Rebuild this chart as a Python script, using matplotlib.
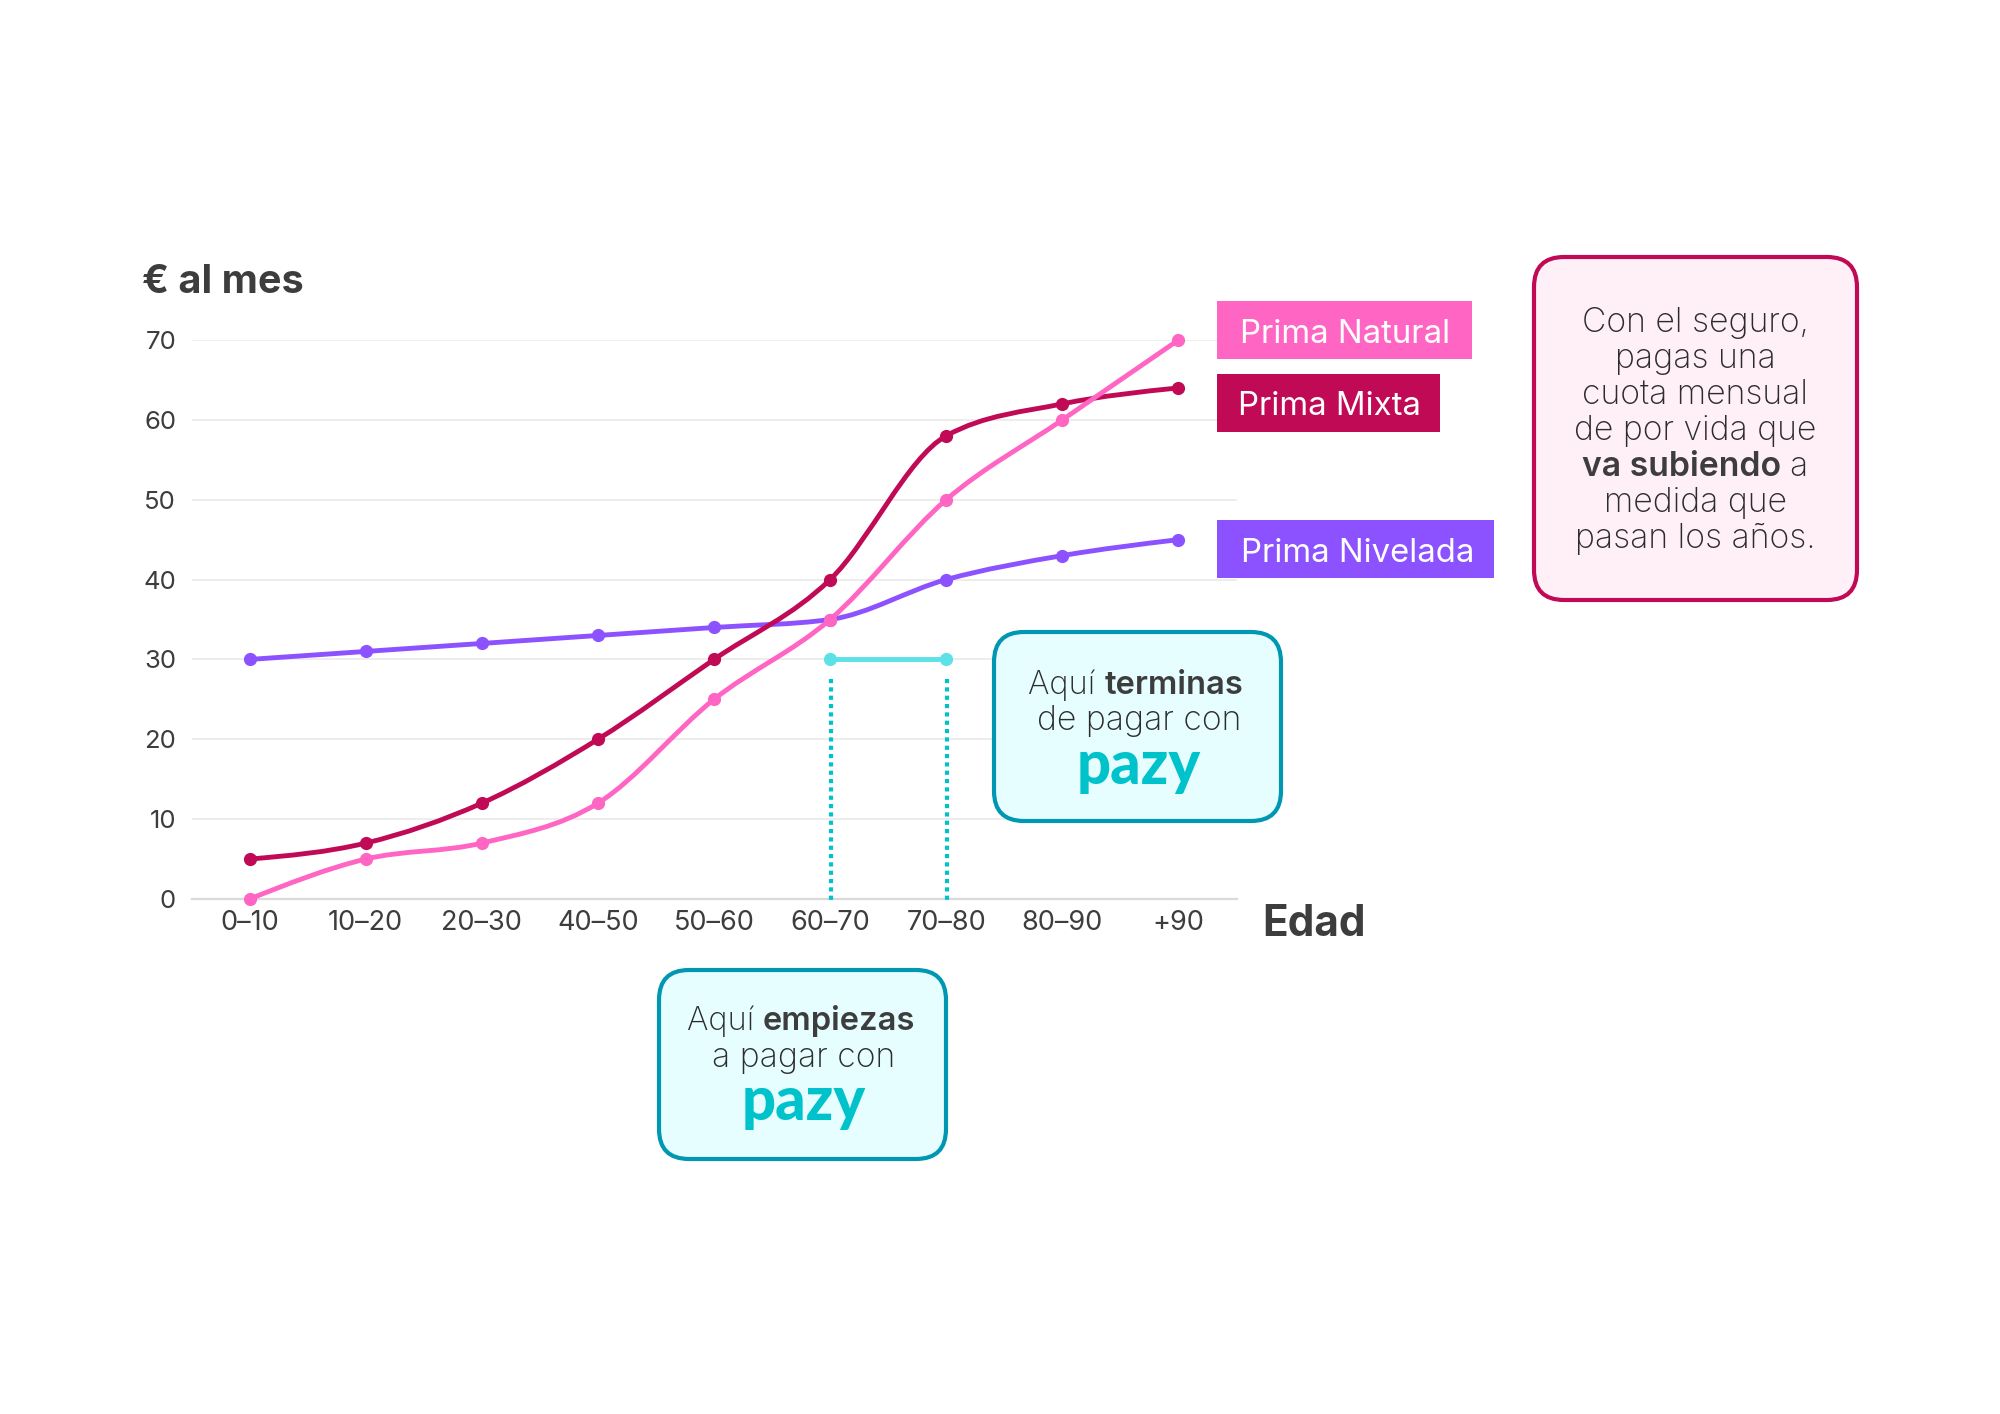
import numpy as np
import matplotlib
matplotlib.use("Agg")
import matplotlib.pyplot as plt
from matplotlib.patches import FancyBboxPatch, Rectangle
from matplotlib.path import Path
from matplotlib.patches import PathPatch

FONT = "Inter"
TEXT = "#3d3d3d"
LIGHT_TEXT = "#2c2c2c"

categories = ["0–10", "10–20", "20–30", "40–50", "50–60", "60–70", "70–80", "80–90", "+90"]
prima_natural = [0, 5, 7, 12, 25, 35, 50, 60, 70]
prima_mixta = [5, 7, 12, 20, 30, 40, 58, 62, 64]
prima_nivelada = [30, 31, 32, 33, 34, 35, 40, 43, 45]
pazy_idx = [5, 6]
pazy_vals = [30, 30]
y_ticks = [0, 10, 20, 30, 40, 50, 60, 70]


def monotone_path(x, y):
    """Monotone cubic (Fritsch-Carlson / d3 curveMonotoneX) through the points."""
    x = np.asarray(x, float)
    y = np.asarray(y, float)
    h = np.diff(x)
    s = np.diff(y) / h
    t = np.zeros_like(y)
    for i in range(1, len(y) - 1):
        p = (s[i - 1] * h[i] + s[i] * h[i - 1]) / (h[i - 1] + h[i])
        t[i] = (np.sign(s[i - 1]) + np.sign(s[i])) * min(abs(s[i - 1]), abs(s[i]), 0.5 * abs(p))
    t[0] = (3 * s[0] - t[1]) / 2
    t[-1] = (3 * s[-1] - t[-2]) / 2
    verts = [(x[0], y[0])]
    codes = [Path.MOVETO]
    for i in range(len(h)):
        d = h[i] / 3
        verts += [(x[i] + d, y[i] + d * t[i]), (x[i + 1] - d, y[i + 1] - d * t[i + 1]), (x[i + 1], y[i + 1])]
        codes += [Path.CURVE4] * 3
    return Path(verts, codes)


W, H = 2000, 1414
fig = plt.figure(figsize=(20, 14.14), dpi=100, facecolor="white")
L, R, T, B = 191.5, 1236.5, 340, 899
ax = fig.add_axes([L / W, 1 - B / H, (R - L) / W, (B - T) / H])
ax.set_xlim(-0.5, 8.5)
ax.set_ylim(0, 70)
ax.set_facecolor("none")
for s in ["top", "left", "right"]:
    ax.spines[s].set_visible(False)
ax.spines["bottom"].set_color("#d9d9d9")
ax.spines["bottom"].set_linewidth(1.6)
ax.set_yticks(y_ticks)
ax.set_xticks(range(len(categories)))
ax.set_xticklabels(categories)
ax.tick_params(length=0, labelcolor=TEXT)
ax.tick_params(axis="y", pad=11, labelsize=18.5)
ax.tick_params(axis="x", pad=8, labelsize=19.5)
for lb in ax.get_xticklabels() + ax.get_yticklabels():
    lb.set_fontfamily(FONT)
ax.grid(axis="y", color="#ececec", lw=1.3)
ax.set_axisbelow(True)

xs = np.arange(len(categories))
for vals, col, z in [(prima_nivelada, "#8c52ff", 3), (prima_mixta, "#c00a55", 4), (prima_natural, "#ff66c4", 5)]:
    ax.add_patch(PathPatch(monotone_path(xs, vals), fc="none", ec=col, lw=3.5, zorder=z, clip_on=False))
    ax.plot(xs, vals, ls="none", marker="o", ms=9.5, color=col, mew=0, zorder=z, clip_on=False)
ax.plot(pazy_idx, pazy_vals, color="#5ce1e6", lw=3.5, marker="o", ms=9.5, mew=0, zorder=5)

# overlay in reference pixels
ov = fig.add_axes([0, 0, 1, 1])
ov.set_xlim(0, W)
ov.set_ylim(H, 0)
ov.axis("off")
ov.patch.set_alpha(0)

for i in pazy_idx:
    xp = L + (i + 0.5) * (R - L) / 9 + 1
    ov.plot([xp, xp], [679, 904], color="#00c2cb", lw=3, ls=(0, (1, 1)))


def box(x0, y0, x1, y1, fc, ec, r=30):
    ov.add_patch(FancyBboxPatch((x0 + r, y0 + r), x1 - x0 - 2 * r, y1 - y0 - 2 * r,
                                boxstyle=f"round,pad={r},rounding_size={r}",
                                fc=fc, ec=ec, lw=3, zorder=2))


box(994, 632, 1281, 821, "#e6feff", "#0097b2")
box(659, 970, 946, 1159, "#e6feff", "#0097b2")
box(1534, 257, 1857, 600, "#fff0f7", "#c00a55")

for x0, y0, x1, y1, c in [(1217, 301, 1472, 359, "#ff66c4"), (1217, 374, 1440, 432, "#c00a55"), (1217, 520, 1494, 578, "#8c52ff")]:
    ov.add_patch(Rectangle((x0, y0), x1 - x0, y1 - y0, fc=c, ec="none", zorder=2))

rend = fig.canvas.get_renderer()


def runs(cx, base, parts, size=24.3, color=None):
    ts = [ov.text(0, base, s, fontsize=size, fontweight=w, family=FONT,
                  color=color or (LIGHT_TEXT if w == "light" else TEXT), va="baseline", ha="left", zorder=4)
          for s, w in parts]
    widths = [t.get_window_extent(rend).width for t in ts]
    x = cx - sum(widths) / 2
    for t, wd in zip(ts, widths):
        t.set_x(x)
        x += wd


n = "light"
b = "semibold"
runs(1136, 694, [("Aquí ", n), ("terminas", b)], size=23.5)
runs(1139, 730, [("de pagar con", n)])
runs(801, 1030, [("Aquí ", n), ("empiezas", b)], size=23.5)
runs(804, 1067, [("a pagar con", n)])

for cx, base in [(1139, 784), (804, 1120)]:
    ov.text(cx, base, "pazy", fontsize=43, fontweight="black", family="Lato", color="#00c2cb", ha="center", va="baseline", zorder=4)

for line, base in [([("Con el seguro,", n)], 332), ([("pagas una", n)], 368), ([("cuota mensual", n)], 404),
                   ([("de por vida que", n)], 440), ([("va subiendo ", b), ("a", n)], 476),
                   ([("medida que", n)], 512), ([("pasan los años.", n)], 548)]:
    runs(1695, base, line)

runs(1345, 343, [("Prima Natural", "normal")], size=23.7, color="white")
runs(1329, 415, [("Prima Mixta", "normal")], size=23.7, color="white")
runs(1358, 562, [("Prima Nivelada", "normal")], size=23.7, color="white")

ov.text(142, 293, "€ al mes", fontsize=28.5, fontweight="bold", family=FONT, color=TEXT, va="baseline")
ov.text(1262, 936, "Edad", fontsize=30.5, fontweight="bold", family=FONT, color=TEXT, va="baseline")

fig.savefig("out.png", dpi=100, facecolor="white")
